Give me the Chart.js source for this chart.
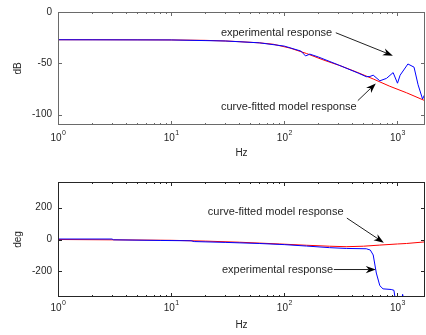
<!DOCTYPE html>
<html>
<head>
<meta charset="utf-8">
<script src="https://cdn.jsdelivr.net/npm/chart.js@4/dist/chart.umd.min.js"></script>
<style>
  body { margin: 0; background: #fff; }
  canvas { position: absolute; left: 0; }
  #magChart { top: 0; }
  #phaseChart { top: 170px; }
</style>
</head>
<body>
<canvas id="magChart" width="426" height="170"></canvas>
<canvas id="phaseChart" width="426" height="165"></canvas>
<script>
// magnitude, experimental (blue)
const magExpFreq = [1, 10, 30, 60, 100, 140, 154, 168, 200, 300, 450, 530, 570, 610, 698, 800, 915, 1000, 1055, 1236, 1400, 1520, 1665, 1745];
const magExpDb = [-27, -27.2, -28.2, -30, -33.2, -38, -42.8, -41, -43.8, -51.5, -59.5, -63, -62.8, -61.5, -67, -64.6, -59, -69.3, -61.5, -50.6, -53.7, -70.8, -84.7, -80];
// magnitude, curve-fitted model (red)
const magFitFreq = [1, 2, 5, 10, 20, 30, 40.5, 60, 80, 112, 157, 220, 310, 434, 610, 855, 1200, 1745];
const magFitDb = [-27, -27, -27.1, -27.2, -27.6, -28.2, -28.9, -30, -31.4, -35.1, -40.4, -46.6, -52.2, -58.4, -65.2, -72.3, -78.6, -86.3];

// phase, experimental (blue) - leaves the axes below -360
const phExpFreq = [1, 3, 3.1, 8, 15, 16, 30, 60, 100, 157, 251, 353, 530, 575, 610, 650, 698, 745, 880, 930, 955, 1000, 1095, 1107, 1112, 1745];
const phExpDeg = [3, 3, -2, -6, -8, -13, -18, -25, -32, -41, -51, -56, -58, -66, -97, -210, -289, -309, -313, -318, -373, -420, -420, -345, -420, -420];
// phase, curve-fitted model (red)
const phFitFreq = [1, 3, 10, 20, 40, 91, 157, 250, 352, 500, 698, 1000, 1200, 1745];
const phFitDeg = [0, -2, -5, -10, -17, -28, -36, -42, -45, -42, -35, -28, -25, -15];

const freqMin = 1, freqMax = 1750;
const decades = [0, 1, 2, 3];
const magTicks = [0, -50, -100];
const phaseTicks = [200, 0, -200];

const FONT = '"Liberation Sans", Arial, Helvetica, sans-serif';
const TEXT = '#262626';

const toPoints = (xs, ys) => xs.map((v, i) => ({ x: v, y: ys[i] }));

function matlabAxes(cfg) {
  return {
    id: 'matlabAxes',
    afterDraw(chart) {
      const { ctx, chartArea: a, scales: { x, y } } = chart;
      ctx.save();
      ctx.strokeStyle = cfg.boxColor;
      ctx.lineWidth = 1;
      ctx.strokeRect(a.left + 0.5, a.top + 0.5, a.right - a.left - 1, a.bottom - a.top - 1);

      // inward ticks on all four sides
      ctx.beginPath();
      decades.forEach(d => {
        for (let k = 1; k <= 9; k++) {
          const v = k * Math.pow(10, d);
          if (v < x.min || v > x.max) continue;
          const px = Math.round(x.getPixelForValue(v)) + 0.5;
          const len = k === 1 ? 4 : 2;
          ctx.moveTo(px, a.bottom); ctx.lineTo(px, a.bottom - len);
          ctx.moveTo(px, a.top); ctx.lineTo(px, a.top + len);
        }
      });
      cfg.yTicks.forEach(v => {
        const py = Math.round(y.getPixelForValue(v)) + 0.5;
        ctx.moveTo(a.left, py); ctx.lineTo(a.left + 4, py);
        ctx.moveTo(a.right, py); ctx.lineTo(a.right - 4, py);
      });
      ctx.stroke();

      // decade labels 10^n
      ctx.fillStyle = TEXT;
      ctx.textBaseline = 'middle';
      ctx.textAlign = 'left';
      decades.forEach(d => {
        const px = x.getPixelForValue(Math.pow(10, d));
        ctx.font = '10px ' + FONT;
        const wBase = ctx.measureText('10').width;
        ctx.font = '7px ' + FONT;
        const wSup = ctx.measureText(String(d)).width;
        const start = px - (wBase + wSup) / 2;
        const cy = a.bottom + cfg.labelGap;
        ctx.font = '10px ' + FONT;
        ctx.fillText('10', start, cy);
        ctx.font = '7px ' + FONT;
        ctx.fillText(String(d), start + wBase + 0.5, cy - 5);
      });

      // annotations with arrows
      ctx.font = '11px ' + FONT;
      cfg.notes.forEach(n => {
        ctx.fillStyle = TEXT;
        ctx.fillText(n.text, x.getPixelForValue(n.at[0]), y.getPixelForValue(n.at[1]));
        const x0 = x.getPixelForValue(n.from[0]), y0 = y.getPixelForValue(n.from[1]);
        const x1 = x.getPixelForValue(n.to[0]), y1 = y.getPixelForValue(n.to[1]);
        const c = Math.cos(Math.atan2(y1 - y0, x1 - x0)), s = Math.sin(Math.atan2(y1 - y0, x1 - x0));
        ctx.strokeStyle = '#222';
        ctx.beginPath();
        ctx.moveTo(x0, y0); ctx.lineTo(x1 - 7 * c, y1 - 7 * s);
        ctx.stroke();
        ctx.fillStyle = '#000';
        ctx.beginPath();
        ctx.moveTo(x1, y1);
        ctx.lineTo(x1 - 10 * c + 3.6 * s, y1 - 10 * s - 3.6 * c);
        ctx.lineTo(x1 - 7 * c, y1 - 7 * s);
        ctx.lineTo(x1 - 10 * c - 3.6 * s, y1 - 10 * s + 3.6 * c);
        ctx.closePath();
        ctx.fill();
      });
      ctx.restore();
    }
  };
}

function makeChart(id, cfg) {
  return new Chart(document.getElementById(id), {
    type: 'line',
    data: {
      datasets: [
        { data: cfg.exp, borderColor: '#0000ff', borderWidth: 1, pointRadius: 0, tension: 0 },
        { data: cfg.fit, borderColor: '#ff0000', borderWidth: 1, pointRadius: 0, tension: 0 }
      ]
    },
    options: {
      responsive: false,
      animation: false,
      devicePixelRatio: 1,
      layout: { padding: { top: cfg.padTop, right: 1, left: 0, bottom: 0 } },
      plugins: { legend: { display: false }, tooltip: { enabled: false } },
      scales: {
        x: {
          type: 'logarithmic',
          min: freqMin,
          max: freqMax,
          grid: { display: false },
          border: { display: false },
          ticks: { display: false },
          title: { display: true, text: 'Hz', color: TEXT, font: { size: 10, family: FONT }, padding: cfg.hzPad },
          afterFit: s => { s.height = cfg.xHeight; }
        },
        y: {
          min: cfg.yMin,
          max: cfg.yMax,
          grid: { display: false, drawTicks: false },
          border: { display: false },
          ticks: { color: TEXT, font: { size: 10, family: FONT }, padding: 6 },
          afterBuildTicks: s => { s.ticks = cfg.yTicks.map(v => ({ value: v })); },
          title: { display: true, text: cfg.yTitle, color: TEXT, font: { size: 10, family: FONT }, padding: 12 },
          afterFit: s => { s.width = 58; }
        }
      }
    },
    plugins: [matlabAxes(cfg)]
  });
}

makeChart('magChart', {
  exp: toPoints(magExpFreq, magExpDb),
  fit: toPoints(magFitFreq, magFitDb),
  yMin: -110, yMax: 0, yTicks: magTicks, yTitle: 'dB',
  padTop: 7, xHeight: 45, hzPad: 11, labelGap: 13, boxColor: '#6a6a6a',
  notes: [
    { text: 'experimental response', at: [27.5, -20.2], from: [285, -20.2], to: [910, -42.5] },
    { text: 'curve-fitted model response', at: [27.5, -92.9], from: [446, -86.3], to: [643, -69.5] }
  ]
});

makeChart('phaseChart', {
  exp: toPoints(phExpFreq, phExpDeg),
  fit: toPoints(phFitFreq, phFitDeg),
  yMin: -360, yMax: 360, yTicks: phaseTicks, yTitle: 'deg',
  padTop: 9, xHeight: 38, hzPad: 4, labelGap: 11.5, boxColor: '#262626',
  notes: [
    { text: 'curve-fitted model response', at: [21.1, 171], from: [357, 134], to: [757, -20] },
    { text: 'experimental response', at: [28.1, -188], from: [274, -188], to: [643, -188] }
  ]
});
</script>
</body>
</html>
